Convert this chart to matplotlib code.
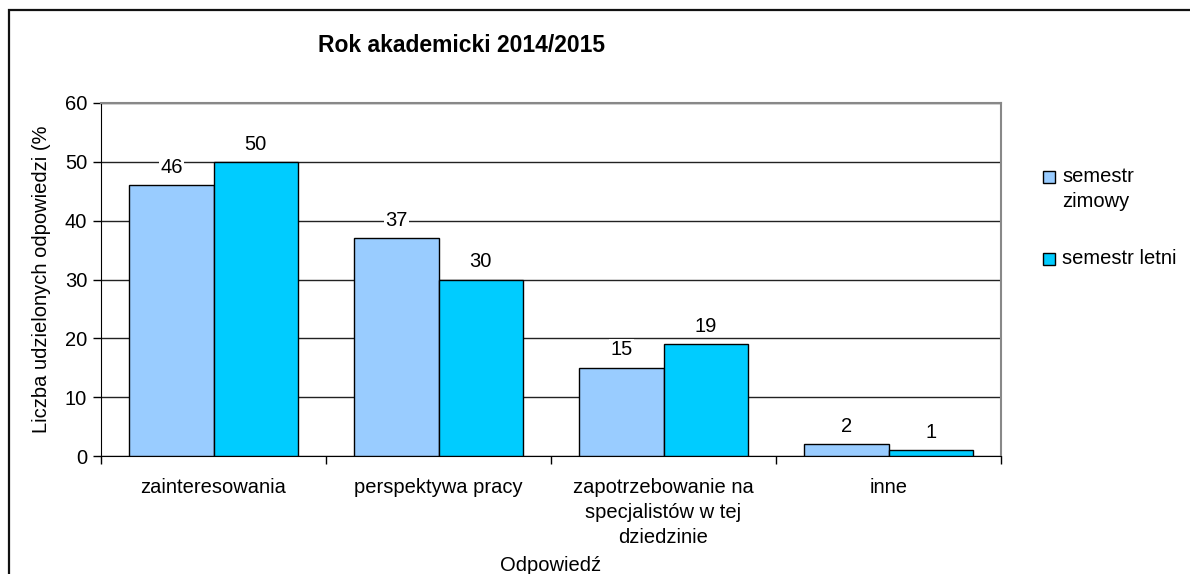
import numpy as np
import matplotlib.pyplot as plt
from matplotlib.patches import Rectangle

plt.rcParams['font.family'] = ['Liberation Sans', 'DejaVu Sans']

categories = ['zainteresowania', 'perspektywa pracy',
              'zapotrzebowanie na\nspecjalistów w tej\ndziedzinie', 'inne']
series_names = ['semestr\nzimowy', 'semestr letni']
zimowy = [46, 37, 15, 2]
letni = [50, 30, 19, 1]
colors = ['#99CCFF', '#00CCFF']

FS = 14.5
W, H = 1190, 574
fig = plt.figure(figsize=(W / 100, H / 100), dpi=100)
ax = fig.add_axes([101 / W, 1 - 456 / H, 900 / W, 353 / H])

x = np.arange(len(categories))
bw = 0.375
for k, vals in enumerate([zimowy, letni]):
    offs = (k - 0.5) * bw
    bars = ax.bar(x + offs, vals, bw, color=colors[k], edgecolor='black', linewidth=1, zorder=3)
    for b, v in zip(bars, vals):
        ax.annotate(str(v), (b.get_x() + b.get_width() / 2, v), xytext=(0, 6),
                    textcoords='offset points', ha='center', va='bottom', fontsize=FS,
                    bbox=dict(facecolor='white', edgecolor='none', pad=1), zorder=4)

ax.set_xlim(-0.5, len(categories) - 0.5)
ax.set_ylim(0, 60)
ax.set_yticks(range(0, 61, 10))
ax.yaxis.grid(True, color='#222222', linewidth=1, zorder=0)
ax.set_xticks(x)
ax.set_xticklabels(categories, fontsize=FS, linespacing=1.38)
ax.set_xticks(np.arange(-0.5, len(categories), 1), minor=True)
ax.tick_params(axis='x', which='major', length=0, pad=16)
ax.tick_params(axis='x', which='minor', length=6, width=1, direction='out')
ax.tick_params(axis='y', length=6, width=1, direction='out', labelsize=FS, pad=4)
for s in ['top', 'right']:
    ax.spines[s].set_color('#888888')
    ax.spines[s].set_linewidth(1.5)
ax.spines['left'].set_color('black')
ax.spines['bottom'].set_color('black')

ax.set_xlabel('Odpowiedź', fontsize=FS, labelpad=7)
ax.set_ylabel('Liczba udzielonych odpowiedzi (%', fontsize=FS, labelpad=10)
fig.text(461 / W, 1 - 46 / H, 'Rok akademicki 2014/2015', ha='center', va='center',
         fontsize=16.5, fontweight='bold')

# legend
leg_y = [177, 259]
for k, name in enumerate(series_names):
    yy = 1 - leg_y[k] / H
    fig.add_artist(Rectangle((1043 / W, yy - 6 / H), 12 / W, 12 / H, transform=fig.transFigure,
                             facecolor=colors[k], edgecolor='black', linewidth=1))
    fig.text(1062 / W, yy + 10 / H, name, ha='left', va='top', fontsize=FS, linespacing=1.38)

# outer frame
fig.add_artist(Rectangle((9 / W, -0.1), 1.2, 1 - 10 / H + 0.1, transform=fig.transFigure,
                         fill=False, edgecolor='#111111', linewidth=1.6))

fig.savefig('out.png', dpi=100)
